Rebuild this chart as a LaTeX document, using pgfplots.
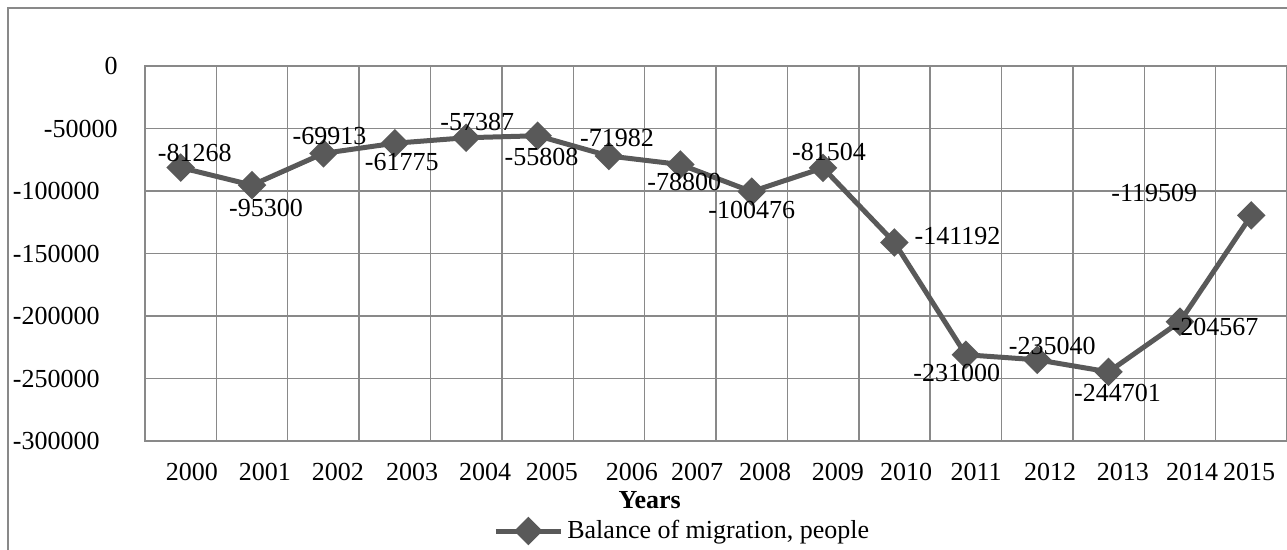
\documentclass[border=0pt]{standalone}
\usepackage{fontspec}
\setmainfont{Liberation Serif}
\usepackage{pgfplots}
\usepackage{pgfplotstable}
\pgfplotsset{compat=1.18}
\definecolor{linegray}{RGB}{89,89,89}
\definecolor{gridgray}{RGB}{137,137,137}
\newcommand\cf{\fontsize{13bp}{15bp}\selectfont}

% x = year index (2000 = 0), dx/dy = label offset in bp
\pgfplotstableread{
x y dx dy
0 -81268 7 7.5
1 -95300 7 -11.5
2 -69913 3 8.5
3 -61775 3.5 -9.5
4 -57387 5.5 8
5 -55808 2 -10.5
6 -71982 4 9
7 -78800 2 -8.5
8 -100476 0 -9
9 -81504 3 8
10 -141192 31.5 3
11 -231000 -4.5 -9
12 -235040 7.5 7
13 -244701 4.5 -10.5
14 -204567 17.5 -2.5
15 -119509 -48.5 11
}\migration

\begin{document}
\begin{tikzpicture}
\begin{axis}[
    at={(0,0)}, anchor=south west,
    scale only axis,
    width=571bp, height=187.5bp,
    xmin=-0.5, xmax=15.5,
    ymin=-300000, ymax=0,
    % year labels sit where the reference has them, a little right of each point
    xtick={0.158,1.181,2.204,3.241,4.264,5.202,6.323,7.234,8.187,9.209,10.162,11.143,12.180,13.202,14.169,14.968},
    xticklabels={2000,2001,2002,2003,2004,2005,2006,2007,2008,2009,2010,2011,2012,2013,2014,2015},
    minor xtick={-0.5,0.5,...,15.5},
    ytick={-300000,-250000,-200000,-150000,-100000,-50000,0},
    yticklabels={-300000\hspace*{9bp},-250000\hspace*{9bp},-200000\hspace*{9bp},-150000\hspace*{9bp},-100000\hspace*{9bp},-50000,0},
    scaled y ticks=false,
    xminorgrids, ymajorgrids,
    major tick length=0pt, minor tick length=0pt,
    axis line style={gridgray, line width=0.75bp},
    grid style={gridgray, line width=0.75bp},
    minor grid style={gridgray, line width=0.75bp},
    xticklabel style={font=\cf, inner sep=0pt, anchor=center, yshift=-15.5bp},
    yticklabel style={font=\cf, inner sep=0pt, anchor=east, xshift=-13.5bp},
    xlabel={\textbf{Years}},
    xlabel style={font=\cf, at={(axis description cs:0.442,0)}, anchor=center, yshift=-29.5bp},
    legend style={draw=none, fill=none, font=\cf, at={(axis description cs:0.3047,0)},
        anchor=west, yshift=-45bp, inner sep=0pt},
    legend image code/.code={\draw[mark repeat=2,mark phase=2,#1]
        plot coordinates {(0bp,0bp) (16.25bp,0bp) (32.5bp,0bp)};},
    nodes near coords,
    point meta=explicit symbolic,
    visualization depends on={\thisrow{dx}\as\dx},
    visualization depends on={\thisrow{dy}\as\dy},
    nodes near coords style={font=\cf, text=black, inner sep=0pt, anchor=center,
        xshift=\dx bp, yshift=\dy bp},
    clip=false,
]
\addplot[linegray, line width=2.5bp, mark=square*, mark size=3.8bp,
    mark options={rotate=45, solid, fill=linegray, draw=none}]
    table[x=x, y=y, meta=y] {\migration};
\addlegendentry{Balance of migration, people}
\end{axis}
\draw[gridgray, line width=0.75bp] (-68.5bp,-60bp) -- (-68.5bp,216.5bp) -- (580bp,216.5bp);
\pgfresetboundingbox
\path (-72.5bp,-54.5bp) rectangle (571bp,220.5bp);
\end{tikzpicture}
\end{document}
